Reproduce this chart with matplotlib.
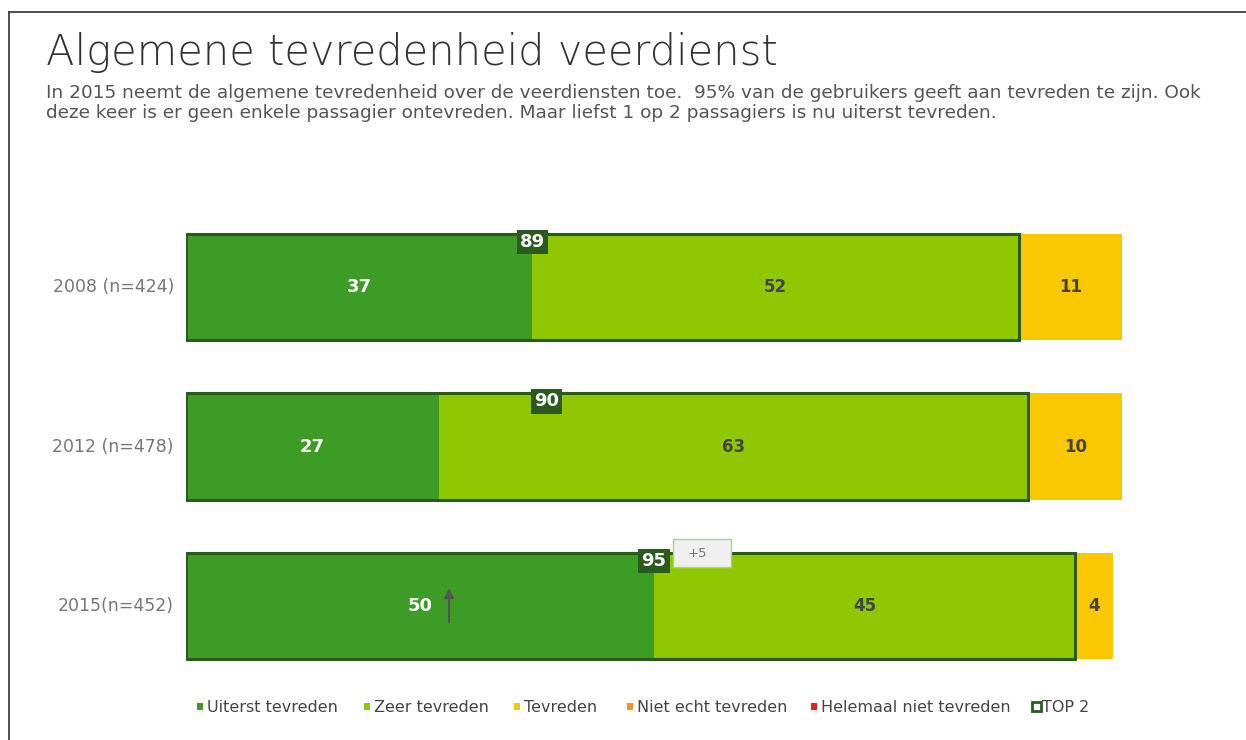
import matplotlib
matplotlib.use('Agg')
import matplotlib.pyplot as plt
from matplotlib.patches import Rectangle

# data
years = ['2008 (n=424)', '2012 (n=478)', '2015(n=452)']
uiterst = [37, 27, 50]
zeer = [52, 63, 45]
tevreden = [11, 10, 4]
top2 = [89, 90, 95]

legend_labels = ['Uiterst tevreden', 'Zeer tevreden', 'Tevreden',
                 'Niet echt tevreden', 'Helemaal niet tevreden', 'TOP 2']

c_dark = '#3c9c25'
c_light = '#8fc800'
c_yellow = '#fac800'
c_orange = '#f7941d'
c_red = '#e5231b'
c_top = '#2b5a1f'

W, H = 1246, 740
fig = plt.figure(figsize=(W / 100, H / 100), dpi=100)

# frame lines (top and left)
fig.add_artist(plt.Line2D([9 / W, 1], [1 - 12 / H, 1 - 12 / H], color='#333333', lw=1.2))
fig.add_artist(plt.Line2D([9 / W, 9 / W], [0, 1 - 12 / H], color='#333333', lw=1.2))

fig.text(46 / W, 1 - 65 / H, 'Algemene tevredenheid veerdienst', fontsize=30,
         color='#333333', fontweight='light', va='baseline')
sub = ['In 2015 neemt de algemene tevredenheid over de veerdiensten toe.  95% van de gebruikers geeft aan tevreden te zijn. Ook',
       'deze keer is er geen enkele passagier ontevreden. Maar liefst 1 op 2 passagiers is nu uiterst tevreden.']
for k, line in enumerate(sub):
    fig.text(46 / W, 1 - (98 + 20 * k) / H, line, fontsize=13.3, color='#555555',
             va='baseline')

# axes: x 0..100 maps to px 186..1122, rows centred at 287 + 159.5*i
x0, x1 = 186, 1122
ytop, ybot = 207.25, 685.75
ax = fig.add_axes([x0 / W, 1 - ybot / H, (x1 - x0) / W, (ybot - ytop) / H])
ax.set_xlim(0, 100)
ax.set_ylim(2.5, -0.5)
ax.axis('off')

h = 0.665
ys = list(range(len(years)))
ax.barh(ys, uiterst, height=h, color=c_dark, lw=0)
ax.barh(ys, zeer, left=uiterst, height=h, color=c_light, lw=0)
lefts = [a + b for a, b in zip(uiterst, zeer)]
ax.barh(ys, tevreden, left=lefts, height=h, color=c_yellow, lw=0)

top_label_x = [37, 38.5, 50]
for i, y in enumerate(ys):
    ax.add_patch(Rectangle((0, y - h / 2), top2[i], h, fill=False,
                           edgecolor=c_top, lw=2.2, zorder=3))
    ax.text(uiterst[i] / 2, y, str(uiterst[i]), ha='center', va='center',
            color='white', fontsize=13, fontweight='bold')
    ax.text(uiterst[i] + zeer[i] / 2, y, str(zeer[i]), ha='center', va='center',
            color='#444444', fontsize=12, fontweight='bold')
    ax.text(lefts[i] + tevreden[i] / 2, y, str(tevreden[i]), ha='center', va='center',
            color='#444444', fontsize=12, fontweight='bold')
    ax.text(top_label_x[i], y - h / 2 + 0.05, str(top2[i]), ha='center', va='center',
            color='white', fontsize=13, fontweight='bold', zorder=5,
            bbox=dict(boxstyle='square,pad=0.18', fc=c_top, ec='none'))
    fig.text(174 / W, 1 - (287 + 159.5 * i) / H, years[i], ha='right', va='center',
             color='#777777', fontsize=12.5)

# change vs previous measurement
ax.add_patch(Rectangle((52.0, 1.58), 6.2, 0.176, fc='#f0f0f0', ec='#a8d48a',
                       lw=1, zorder=5))
ax.text(54.6, 1.668, '+5', ha='center', va='center', color='#777777',
        fontsize=9.5, zorder=6)
ax.annotate('', xy=(28.1, 2 - 0.13), xytext=(28.1, 2 + 0.12),
            arrowprops=dict(arrowstyle='-|>', color='#555555', lw=1.5, mutation_scale=14))

# legend
leg_x = [197, 364, 514, 627, 811, 1032]
leg_c = [c_dark, c_light, c_yellow, c_orange, c_red, None]
for lx, lab, c in zip(leg_x, legend_labels, leg_c):
    if c is None:
        fig.patches.append(Rectangle((lx / W, 1 - 711 / H), 9 / W, 9 / H, fill=False,
                                     ec=c_top, lw=2, transform=fig.transFigure))
    else:
        fig.patches.append(Rectangle((lx / W, 1 - 710 / H), 6 / W, 7 / H, fc=c,
                                     ec='none', transform=fig.transFigure))
    fig.text((lx + 10) / W, 1 - 707 / H, lab, ha='left', va='center',
             color='#444444', fontsize=11.5)

fig.savefig('out.png', dpi=100)
